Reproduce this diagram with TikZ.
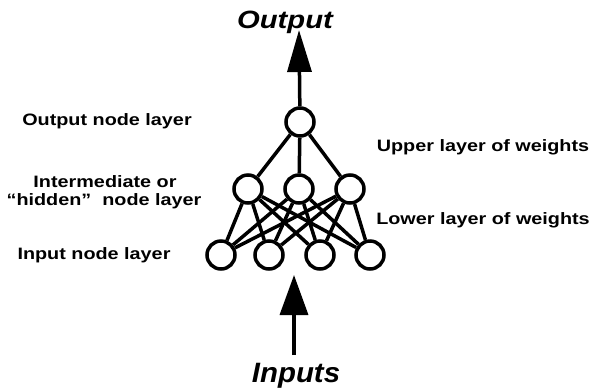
\documentclass[tikz,border=0pt]{standalone}
\usepackage{fontspec}
\setmainfont{Liberation Sans}
\usetikzlibrary{arrows.meta}
% horizontally widened lettering
\newcommand\hs[2][1.2]{\scalebox{#1}[1]{#2}}
\begin{document}
\begin{tikzpicture}[x=1bp,y=-1bp,
  unit/.style={circle,draw,line width=3.5bp,minimum size=28bp,inner sep=0pt},
  weight/.style={line width=3.5bp},
  flow/.style={line width=3.5bp,-{Triangle[length=42bp,width=24bp]}},
  lbl/.style={font=\bfseries\fontsize{16.5bp}{19bp}\selectfont,inner sep=0pt,anchor=base},
  title/.style={font=\bfseries\itshape,inner sep=0pt,anchor=base}]
\useasboundingbox (0,0) rectangle (592,389);

% network units
\node[unit] (out) at (300,122) {};
\node[unit] (h1) at (248,189) {};
\node[unit] (h2) at (299,189) {};
\node[unit] (h3) at (350,189) {};
\node[unit] (i1) at (221,255) {};
\node[unit] (i2) at (269,255) {};
\node[unit] (i3) at (320,255) {};
\node[unit] (i4) at (370,255) {};

% upper layer of weights
\foreach \h in {h1,h2,h3} \draw[weight] (out) -- (\h);
% lower layer of weights
\foreach \h in {h1,h2,h3}
  \foreach \i in {i1,i2,i3,i4}
    \draw[weight] (\h) -- (\i);

% signal flow in and out
\coordinate (outtip) at (299,30);
\coordinate (intail) at (294,355);
\coordinate (intip) at (294,275);
\draw[flow] (out) -- (outtip);
\draw[line width=3.5bp,-{Triangle[length=40bp,width=28bp]}] (intail) -- (intip);

% titles
\node[title,font=\bfseries\itshape\fontsize{25bp}{30bp}\selectfont] (toptitle) at (285,28) {\hs[1.17]{Output}};
\node[title,font=\bfseries\itshape\fontsize{28bp}{32bp}\selectfont] (bottitle) at (296,382) {\hs[1.05]{Inputs}};

% layer labels
\node[lbl] (lout) at (107,125) {\hs{Output node layer}};
\node[lbl] (lhid1) at (105,187) {\hs{Intermediate or}};
\node[lbl] (lhid2) at (104,205) {\hs{“hidden”\ \ node layer}};
\node[lbl] (lin) at (94,259) {\hs{Input node layer}};
\node[lbl] (lup) at (483,151) {\hs{Upper layer of weights}};
\node[lbl] (llow) at (483,224) {\hs{Lower layer of weights}};
\end{tikzpicture}
\end{document}
